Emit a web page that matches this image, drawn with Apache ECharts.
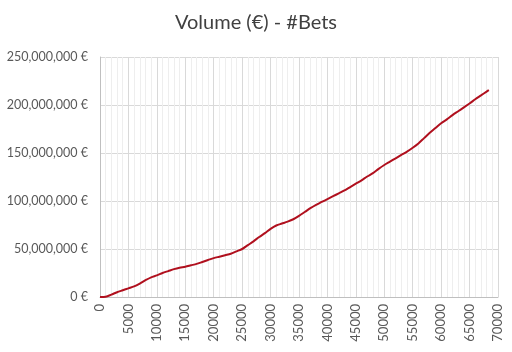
<!DOCTYPE html>
<html>
<head>
<meta charset="utf-8">
<script src="https://cdn.jsdelivr.net/npm/echarts@6/dist/echarts.min.js"></script>
<style>
  html, body { margin: 0; padding: 0; background: #fff; }
  #chart { width: 512px; height: 352px; }
</style>
</head>
<body>
<div id="chart"></div>
<script>
// number of bets (x)
var bets = [
  0, 1000, 2000, 3000, 4000, 5000, 6000, 7000, 8000, 9000,
  10000, 11000, 12000, 13000, 14000, 15000, 16000, 17000, 18000, 19000,
  20000, 21000, 22000, 23000, 24000, 25000, 26000, 27000, 28000, 29000,
  30000, 31000, 32000, 33000, 34000, 35000, 36000, 37000, 38000, 39000,
  40000, 41000, 42000, 43000, 44000, 45000, 46000, 47000, 48000, 49000,
  50000, 51000, 52000, 53000, 54000, 55000, 56000, 57000, 58000, 59000,
  60000, 61000, 62000, 63000, 64000, 65000, 66000, 67000, 68000, 68400
]
// cumulative volume, millions of euros
var volumeM = [
  0, 0.3, 2.5, 5, 7, 9, 11, 14, 17.5, 20.5,
  22.5, 25, 27, 29, 30.5, 31.5, 33, 34.5, 36.5, 38.5,
  40.5, 42, 43.5, 45, 47.5, 50, 54, 58, 62.5, 66.5,
  71, 74.5, 76.5, 78.5, 81, 84.5, 88.5, 92.5, 96, 99,
  102, 105, 108, 111, 114.5, 118, 121.5, 125.5, 129, 133.5,
  137.5, 141, 144.5, 148, 151.5, 155.5, 160, 165.5, 171, 176,
  181, 185, 189.5, 193.5, 197.5, 201.5, 206, 210, 214, 215.5
]
var titleText = 'Volume (€) - #Bets'

var chart = echarts.init(document.getElementById('chart'))
var font = 'Lato, "Open Sans", sans-serif'

var option = {
  backgroundColor: '#fff',
  animation: false,
  title: {
    text: titleText,
    left: 'center',
    top: 8,
    textStyle: { fontFamily: font, fontSize: 20, fontWeight: 'normal', color: '#404040' }
  },
  grid: { left: 100, right: 14, top: 57, bottom: 55 },
  xAxis: {
    type: 'value',
    min: 0,
    max: 70000,
    interval: 5000,
    axisLine: { show: true, lineStyle: { color: '#BFBFBF' } },
    axisTick: { show: false },
    axisLabel: {
      rotate: 90,
      margin: 7,
      fontFamily: font,
      fontSize: 13,
      color: '#595959',
      formatter: function (v) { return String(v) }
    },
    splitLine: { show: true, lineStyle: { color: '#D9D9D9' } },
    minorSplitLine: { show: true, lineStyle: { color: '#EEEEEE' } },
    minorTick: { show: false, splitNumber: 5 }
  },
  yAxis: {
    type: 'value',
    min: 0,
    max: 250,
    interval: 50,
    axisLine: { show: true, lineStyle: { color: '#BFBFBF' } },
    axisTick: { show: false },
    axisLabel: {
      margin: 12,
      fontFamily: font,
      fontSize: 12.5,
      color: '#595959',
      formatter: function (v) { return (v * 1000000).toLocaleString('en-US') + ' €' }
    },
    splitLine: { show: true, lineStyle: { color: '#D9D9D9' } }
  },
  series: [
    {
      type: 'line',
      data: bets.map(function (b, i) { return [b, volumeM[i]] }),
      showSymbol: false,
      smooth: 0.3,
      lineStyle: { color: '#B0101E', width: 2 }
    }
  ]
}
chart.setOption(option)
</script>
</body>
</html>
